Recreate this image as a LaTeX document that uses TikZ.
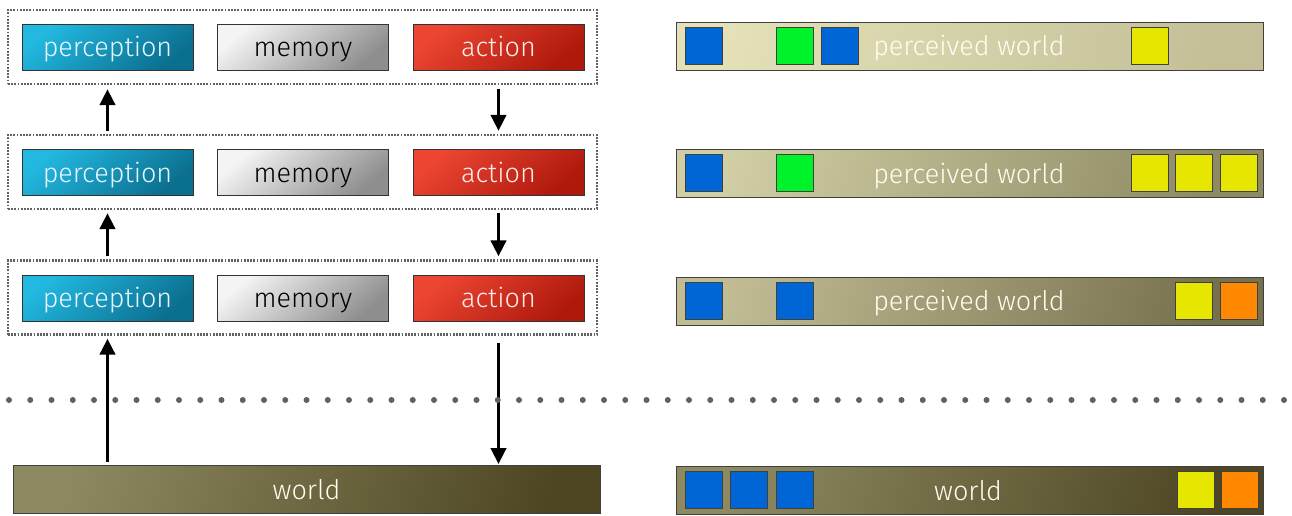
\documentclass[tikz,border=0pt]{standalone}
\usepackage{fontspec}
\setmainfont{Fira Sans}[UprightFont={* Light}]
\usetikzlibrary{arrows.meta}
\definecolor{percA}{HTML}{22B8E0}\definecolor{percB}{HTML}{0B6F8F}
\definecolor{memA}{HTML}{F4F4F4}\definecolor{memB}{HTML}{8E8E8E}
\definecolor{actA}{HTML}{EC4632}\definecolor{actB}{HTML}{AE190C}
\definecolor{pwaA}{HTML}{E4E1B8}\definecolor{pwaB}{HTML}{BBB690}
\definecolor{pwbA}{HTML}{D1CDA4}\definecolor{pwbB}{HTML}{8D8A64}
\definecolor{pwcA}{HTML}{C2BC95}\definecolor{pwcB}{HTML}{76714D}
\definecolor{wA}{HTML}{8D8A62}\definecolor{wB}{HTML}{4E4623}
\definecolor{sqblue}{HTML}{0066D6}\definecolor{sqgreen}{HTML}{00F22A}
\definecolor{sqyellow}{HTML}{E6E600}\definecolor{sqorange}{HTML}{FF8800}
\definecolor{dotgray}{HTML}{5E6262}
\tikzset{
  bigfont/.style={font=\fontsize{27}{30}\selectfont, text height=23pt, text depth=4pt},
  modbox/.style={draw=black!80, line width=0.8pt, minimum width=171pt, minimum height=46pt, inner sep=0pt, bigfont},
  perc/.style={modbox, top color=percA, bottom color=percB, shading angle=40, text=white!92!cyan},
  mem/.style={modbox, top color=memA, bottom color=memB, shading angle=40, text=black},
  act/.style={modbox, top color=actA, bottom color=actB, shading angle=40, text=white!92!red},
  group/.style={draw=dotgray, line width=2.2pt, dash pattern=on 1.8pt off 1.4pt, minimum width=589pt, minimum height=74pt, inner sep=0pt},
  bar/.style={draw=black!75, line width=0.8pt, minimum width=587pt, minimum height=48pt, inner sep=0pt, bigfont, text=white!94!yellow},
  bartext/.style={bigfont, text=white!94!yellow, inner sep=0pt},
  sq/.style={draw=black!75, line width=0.8pt, minimum width=37pt, minimum height=37pt, inner sep=0pt},
  arr/.style={line width=3.8pt, -{Triangle[width=15pt,length=16pt]}},
}
\begin{document}
\begin{tikzpicture}[x=1pt,y=-1pt]
\useasboundingbox (0,0) rectangle (1292,515);
% groups
\node[group] (g1) at (302.5,47) {};
\node[group] (g2) at (302.5,172) {};
\node[group] (g3) at (302.5,297.5) {};
% modules
\node[perc] (p1) at (107.5,47) {perception};
\node[mem]  (m1) at (303,47) {memory};
\node[act]  (a1) at (498.5,47) {action};
\node[perc] (p2) at (107.5,172.5) {perception};
\node[mem]  (m2) at (303,172.5) {memory};
\node[act]  (a2) at (498.5,172.5) {action};
\node[perc] (p3) at (107.5,298) {perception};
\node[mem]  (m3) at (303,298) {memory};
\node[act]  (a3) at (498.5,298) {action};
% world
\node[bar, top color=wA, bottom color=wB, shading angle=75] (w) at (306.5,489.5) {world};
% arrows
\draw[arr, shorten <=3pt, shorten >=4pt] (g2.north -| p2) -- (g1.south -| p1);
\draw[arr, shorten <=4pt, shorten >=3pt] (g1.south -| a1) -- (g2.north -| a2);
\draw[arr, shorten <=3pt, shorten >=3pt] (g3.north -| p3) -- (g2.south -| p2);
\draw[arr, shorten <=3pt, shorten >=3pt] (g2.south -| a2) -- (g3.north -| a3);
\draw[arr, shorten <=3pt, shorten >=3pt] (w.north -| p3) -- (g3.south -| p3);
\draw[arr, shorten <=7pt, shorten >=1pt] (g3.south -| a3) -- (w.north -| a3);
% dotted separator
\foreach \i in {0,...,60} {\fill[dotgray] (9+\i*21.25,400) circle (3pt);}
% perceived worlds
\node[bar, top color=pwaA, bottom color=pwbA!40!pwaB, shading angle=75] (r1) at (969.5,46) {};
\node[bar, top color=pwbA, bottom color=pwbB, shading angle=75] (r2) at (969.5,173) {};
\node[bar, top color=pwcA, bottom color=pwcB, shading angle=75] (r3) at (969.5,301) {};
\node[bar, top color=wA, bottom color=wB, shading angle=75] (r4) at (970,490) {};
\node[bartext] (t1) at (969,46) {perceived world};
\node[bartext] (t2) at (969,174) {perceived world};
\node[bartext] (t3) at (969,301) {perceived world};
\node[bartext] (t4) at (968,491) {world};
% squares row 1
\node[sq, fill=sqblue]   (s11) at (703.5,46) {};
\node[sq, fill=sqgreen]  (s12) at (795,46) {};
\node[sq, fill=sqblue]   (s13) at (839.5,46) {};
\node[sq, fill=sqyellow] (s14) at (1150,46) {};
% row 2
\node[sq, fill=sqblue]   (s21) at (703.5,173) {};
\node[sq, fill=sqgreen]  (s22) at (795,173) {};
\node[sq, fill=sqyellow] (s23) at (1150,173) {};
\node[sq, fill=sqyellow] (s24) at (1194,173) {};
\node[sq, fill=sqyellow] (s25) at (1238.5,173) {};
% row 3
\node[sq, fill=sqblue]   (s31) at (703.5,301) {};
\node[sq, fill=sqblue]   (s32) at (795,301) {};
\node[sq, fill=sqyellow] (s33) at (1194,301) {};
\node[sq, fill=sqorange] (s34) at (1238.5,301) {};
% world row
\node[sq, fill=sqblue]   (s41) at (703.5,490) {};
\node[sq, fill=sqblue]   (s42) at (748.5,490) {};
\node[sq, fill=sqblue]   (s43) at (794.5,490) {};
\node[sq, fill=sqyellow] (s44) at (1196,490) {};
\node[sq, fill=sqorange] (s45) at (1240,490) {};
\end{tikzpicture}
\end{document}
